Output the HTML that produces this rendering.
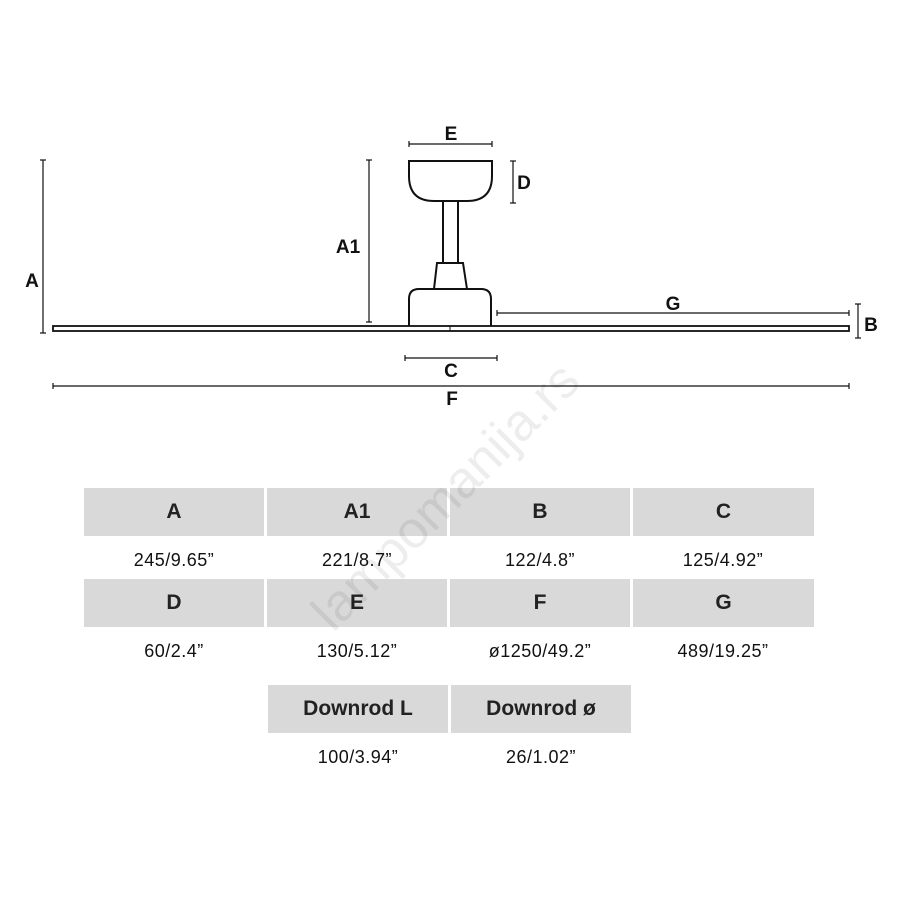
<!DOCTYPE html>
<html><head><style>
body{margin:0;width:900px;height:900px;background:#fff;position:relative;font-family:"Liberation Sans",sans-serif;overflow:hidden}
.h{position:absolute;background:#d9d9d9;font-weight:bold;font-size:21px;color:#222;display:flex;align-items:center;justify-content:center;height:48px}
.v{position:absolute;font-size:18px;color:#111;text-align:center;width:180px;letter-spacing:0.5px}
</style></head><body>
<svg width="900" height="440" style="position:absolute;left:0;top:0" font-family="Liberation Sans" font-weight="bold" font-size="19" fill="#111">
<g stroke="#111" fill="none" stroke-width="1.2">
<line x1="43" y1="160" x2="43" y2="333"/><line x1="40" y1="160" x2="46" y2="160"/><line x1="40" y1="333" x2="46" y2="333"/>
<line x1="369" y1="160" x2="369" y2="322"/><line x1="366" y1="160" x2="372" y2="160"/><line x1="366" y1="322" x2="372" y2="322"/>
<line x1="409" y1="144" x2="492" y2="144"/><line x1="409" y1="141" x2="409" y2="147"/><line x1="492" y1="141" x2="492" y2="147"/>
<line x1="513" y1="161" x2="513" y2="203"/><line x1="510" y1="161" x2="516" y2="161"/><line x1="510" y1="203" x2="516" y2="203"/>
<line x1="497" y1="313" x2="849" y2="313"/><line x1="497" y1="310" x2="497" y2="316"/><line x1="849" y1="310" x2="849" y2="316"/>
<line x1="858" y1="304" x2="858" y2="338"/><line x1="855" y1="304" x2="861" y2="304"/><line x1="855" y1="338" x2="861" y2="338"/>
<line x1="405" y1="358" x2="497" y2="358"/><line x1="405" y1="355" x2="405" y2="361"/><line x1="497" y1="355" x2="497" y2="361"/>
<line x1="53" y1="386" x2="849" y2="386"/><line x1="53" y1="383" x2="53" y2="389"/><line x1="849" y1="383" x2="849" y2="389"/>
</g>
<g stroke="#111" stroke-width="2" fill="#fff">
<path d="M409 161 H492 V176 Q492 201 467 201 H434 Q409 201 409 176 Z"/>
<rect x="443" y="201" width="15" height="62"/>
<path d="M437 263 H463 L467 289 H434 Z"/>
<path d="M409 328 V299 Q409 289 419 289 H481 Q491 289 491 299 V328"/>
<rect x="53" y="326" width="796" height="5" stroke-width="1.8"/>
</g>
<line x1="450" y1="326" x2="450" y2="331" stroke="#111"/>
<text x="32" y="287" text-anchor="middle">A</text>
<text x="348" y="253" text-anchor="middle">A1</text>
<text x="451" y="140" text-anchor="middle">E</text>
<text x="524" y="189" text-anchor="middle">D</text>
<text x="673" y="310" text-anchor="middle">G</text>
<text x="871" y="331" text-anchor="middle">B</text>
<text x="451" y="377" text-anchor="middle">C</text>
<text x="452" y="405" text-anchor="middle">F</text>
</svg>
<div class="h" style="left:84px;top:488px;width:180px">A</div>
<div class="h" style="left:267px;top:488px;width:180px">A1</div>
<div class="h" style="left:450px;top:488px;width:180px">B</div>
<div class="h" style="left:633px;top:488px;width:181px">C</div>
<div class="v" style="left:84px;top:550px">245/9.65”</div>
<div class="v" style="left:267px;top:550px">221/8.7”</div>
<div class="v" style="left:450px;top:550px">122/4.8”</div>
<div class="v" style="left:633px;top:550px">125/4.92”</div>
<div class="h" style="left:84px;top:579px;width:180px">D</div>
<div class="h" style="left:267px;top:579px;width:180px">E</div>
<div class="h" style="left:450px;top:579px;width:180px">F</div>
<div class="h" style="left:633px;top:579px;width:181px">G</div>
<div class="v" style="left:84px;top:641px">60/2.4”</div>
<div class="v" style="left:267px;top:641px">130/5.12”</div>
<div class="v" style="left:450px;top:641px">ø1250/49.2”</div>
<div class="v" style="left:633px;top:641px">489/19.25”</div>
<div class="h" style="left:268px;top:685px;width:180px">Downrod L</div>
<div class="h" style="left:451px;top:685px;width:180px">Downrod ø</div>
<div class="v" style="left:268px;top:747px">100/3.94”</div>
<div class="v" style="left:451px;top:747px">26/1.02”</div>
<div style="position:absolute;left:300px;top:600px;transform:rotate(-45deg);transform-origin:left top;font-size:52px;color:rgba(0,0,0,0.07);white-space:nowrap">lampomanija.rs</div>
</body></html>
